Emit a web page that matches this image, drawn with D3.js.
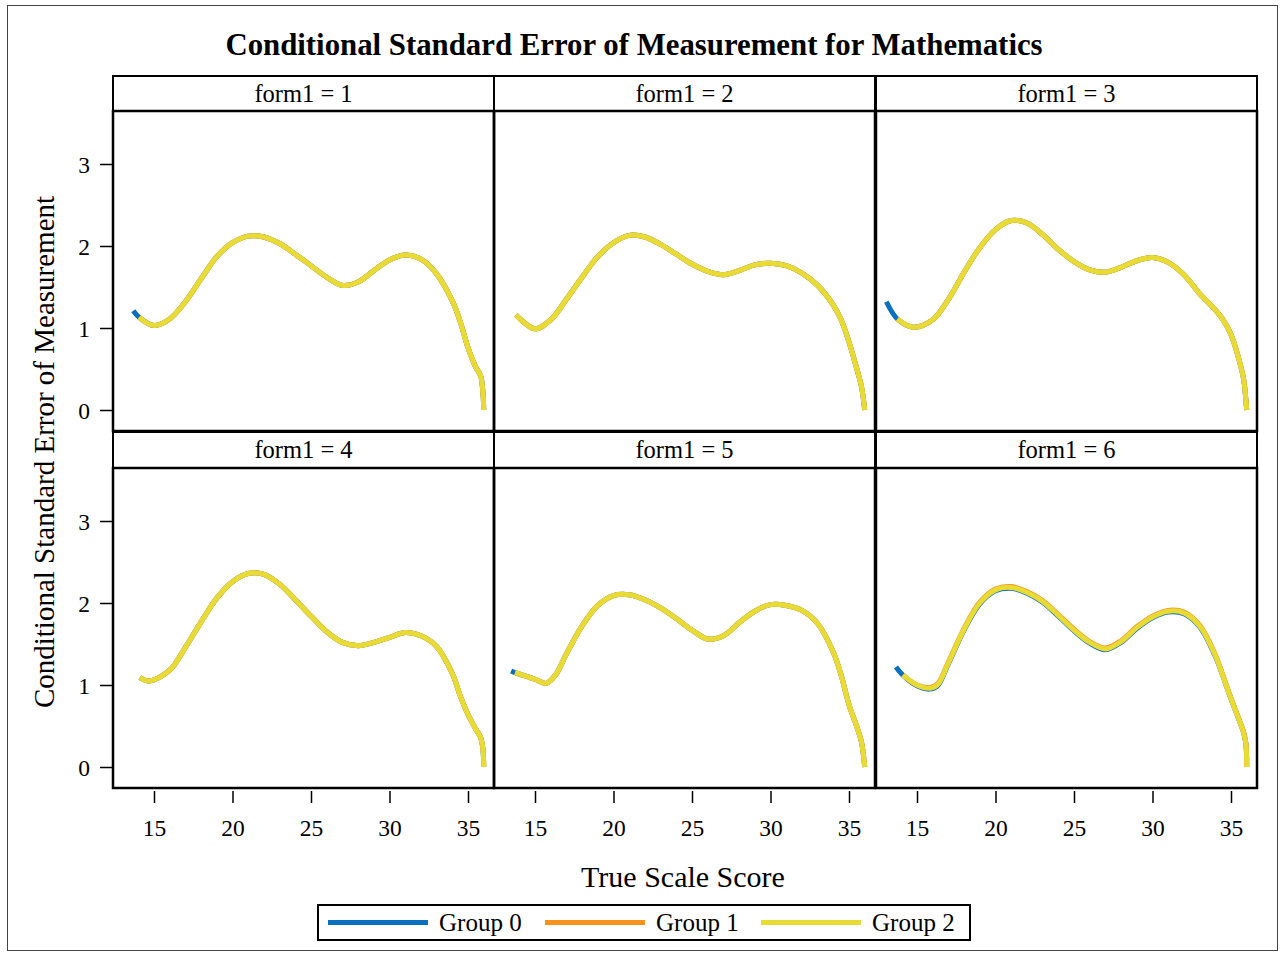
<!DOCTYPE html>
<html><head><meta charset="utf-8">
<script src="https://cdn.jsdelivr.net/npm/d3@7"></script>
<style>
body{margin:0;background:#fff}
svg{display:block}
text{font-family:"Liberation Serif","Times New Roman",serif;fill:#000}
</style>
</head><body>
<svg id="c" width="1284" height="957"></svg>
<script>
// ---------- data ----------
const formLabels = ["form1 = 1","form1 = 2","form1 = 3","form1 = 4","form1 = 5","form1 = 6"];
const groupNames = ["Group 0","Group 1","Group 2"];
const groupColors = ["#0B6FBF","#F7921E","#E8DB36"];
const yTicks = [0,1,2,3];
const xTicks = [15,20,25,30,35];

const form1X  = [13.68,14.05,15,16,17,18,19,20,21,22,23,24,25,26,27,28,29,30,31,32,33,34,34.5,35,35.5,35.8,35.95,36];
const form1G0 = [1.21,1.13,1.03,1.11,1.32,1.60,1.87,2.04,2.12,2.11,2.03,1.90,1.76,1.62,1.52,1.56,1.70,1.83,1.89,1.84,1.66,1.33,1.08,0.76,0.52,0.42,0.22,0];
const form1G1 = [null,1.13,1.03,1.11,1.32,1.60,1.87,2.04,2.12,2.11,2.03,1.90,1.76,1.62,1.52,1.56,1.70,1.83,1.89,1.84,1.66,1.33,1.08,0.76,0.52,0.42,0.22,0];
const form1G2 = [null,1.13,1.03,1.11,1.32,1.60,1.87,2.04,2.12,2.11,2.03,1.90,1.76,1.62,1.52,1.56,1.70,1.83,1.89,1.84,1.66,1.33,1.08,0.76,0.52,0.42,0.22,0];

const form2X  = [13.79,15,16,17,18,19,20,21,22,23,24,25,26,27,28,29,30,31,32,33,34,34.5,35,35.5,35.8,36];
const form2G0 = [1.16,0.99,1.10,1.35,1.62,1.87,2.04,2.13,2.11,2.02,1.90,1.78,1.69,1.65,1.70,1.77,1.79,1.76,1.67,1.52,1.28,1.10,0.83,0.50,0.28,0];
const form2G1 = [1.16,0.99,1.10,1.35,1.62,1.87,2.04,2.13,2.11,2.02,1.90,1.78,1.69,1.65,1.70,1.77,1.79,1.76,1.67,1.52,1.28,1.10,0.83,0.50,0.28,0];
const form2G2 = [1.16,0.99,1.10,1.35,1.62,1.87,2.04,2.13,2.11,2.02,1.90,1.78,1.69,1.65,1.70,1.77,1.79,1.76,1.67,1.52,1.28,1.10,0.83,0.50,0.28,0];

const form3X  = [13.05,13.75,14.75,16,17,18,19,20,21,22,23,24,25,26,27,28,29,30,31,32,33,34,34.5,35,35.5,35.8,36];
const form3G0 = [1.32,1.11,1.01,1.10,1.35,1.68,1.98,2.20,2.31,2.28,2.14,1.96,1.81,1.71,1.68,1.74,1.82,1.86,1.80,1.65,1.42,1.22,1.10,0.92,0.62,0.38,0];
const form3G1 = [null,1.11,1.01,1.10,1.35,1.68,1.98,2.20,2.31,2.28,2.14,1.96,1.81,1.71,1.68,1.74,1.82,1.86,1.80,1.65,1.42,1.22,1.10,0.92,0.62,0.38,0];
const form3G2 = [null,1.11,1.01,1.10,1.35,1.68,1.98,2.20,2.31,2.28,2.14,1.96,1.81,1.71,1.68,1.74,1.82,1.86,1.80,1.65,1.42,1.22,1.10,0.92,0.62,0.38,0];

const form4X  = [14.1,14.7,16,17,18,19,20,21,22,23,24,25,26,27,28,29,30,31,32,33,34,34.5,35,35.5,35.8,35.95,36];
const form4G0 = [1.09,1.05,1.18,1.46,1.77,2.06,2.26,2.36,2.35,2.23,2.04,1.84,1.65,1.52,1.48,1.52,1.58,1.64,1.60,1.47,1.14,0.87,0.64,0.46,0.36,0.22,0];
const form4G1 = [1.09,1.05,1.18,1.46,1.77,2.06,2.26,2.36,2.35,2.23,2.04,1.84,1.65,1.52,1.48,1.52,1.58,1.64,1.60,1.47,1.14,0.87,0.64,0.46,0.36,0.22,0];
const form4G2 = [1.09,1.05,1.18,1.46,1.77,2.06,2.26,2.36,2.35,2.23,2.04,1.84,1.65,1.52,1.48,1.52,1.58,1.64,1.60,1.47,1.14,0.87,0.64,0.46,0.36,0.22,0];

const form5X  = [13.48,13.73,15,15.7,16.3,17,18,19,20,21,22,23,24,25,26,27,28,29,30,31,32,33,34,34.5,35,35.5,35.8,36];
const form5G0 = [1.17,1.15,1.07,1.02,1.12,1.38,1.72,1.97,2.09,2.10,2.04,1.94,1.81,1.67,1.56,1.60,1.76,1.90,1.98,1.97,1.91,1.75,1.40,1.12,0.76,0.49,0.30,0];
const form5G1 = [null,1.15,1.07,1.02,1.12,1.38,1.72,1.97,2.09,2.10,2.04,1.94,1.81,1.67,1.56,1.60,1.76,1.90,1.98,1.97,1.91,1.75,1.40,1.12,0.76,0.49,0.30,0];
const form5G2 = [null,1.15,1.07,1.02,1.12,1.38,1.72,1.97,2.09,2.10,2.04,1.94,1.81,1.67,1.56,1.60,1.76,1.90,1.98,1.97,1.91,1.75,1.40,1.12,0.76,0.49,0.30,0];

const form6X  = [13.66,14.1,15,15.8,16.3,17,18,19,20,21,22,23,24,25,26,27,28,29,30,31,32,33,34,34.5,35,35.5,35.8,35.95,36];
const form6G0 = [1.22,1.12,0.99,0.95,0.99,1.26,1.67,1.99,2.15,2.18,2.12,2.01,1.84,1.66,1.51,1.43,1.52,1.69,1.82,1.89,1.87,1.71,1.35,1.10,0.83,0.58,0.42,0.28,0];
const form6G1 = [null,1.12,1.00,0.97,1.01,1.28,1.69,2.01,2.17,2.20,2.14,2.03,1.86,1.68,1.53,1.45,1.54,1.71,1.84,1.91,1.89,1.73,1.37,1.11,0.84,0.59,0.43,0.29,0];
const form6G2 = [null,1.12,1.00,0.96,1.00,1.27,1.68,2.00,2.16,2.19,2.13,2.02,1.85,1.67,1.52,1.44,1.53,1.70,1.83,1.90,1.88,1.72,1.36,1.10,0.83,0.58,0.42,0.28,0];

const formsX = [form1X,form2X,form3X,form4X,form5X,form6X];
const formsG = [
  [form1G0,form1G1,form1G2],[form2G0,form2G1,form2G2],[form3G0,form3G1,form3G2],
  [form4G0,form4G1,form4G2],[form5G0,form5G1,form5G2],[form6G0,form6G1,form6G2]];

// ---------- layout ----------
const svg = d3.select("#c");
svg.append("rect").attr("x",7.5).attr("y",5.5).attr("width",1270).attr("height",945)
  .attr("fill","#fff").attr("stroke","#444").attr("stroke-width",1);

svg.append("text").attr("x",634).attr("y",55).attr("text-anchor","middle")
  .attr("font-weight","bold").attr("font-size",30.8)
  .text("Conditional Standard Error of Measurement for Mathematics");

const colX = [113, 494, 876];
const colW = 381;
const headY = [76, 432], headH = [35, 36];
const plotY = [111, 468], plotH = 320;

const x = d3.scaleLinear().domain([15 - 41/15.7, 15 + (colW-41)/15.7]).range([0, colW]);
const y = d3.scaleLinear().domain([-(plotH-299)/82, 299/82]).range([plotH, 0]);

const line = d3.line().defined(d => d[1] != null)
  .x(d => x(d[0])).y(d => y(d[1])).curve(d3.curveCatmullRom.alpha(0.5));

const defs = svg.append("defs");

formLabels.forEach((lab, i) => {
  const c = i % 3, r = Math.floor(i / 3);
  const gx = colX[c];
  // header
  svg.append("rect").attr("x",gx).attr("y",headY[r]).attr("width",colW).attr("height",headH[r])
    .attr("fill","#fff").attr("stroke","#000").attr("stroke-width",2);
  svg.append("text").attr("x",gx+colW/2).attr("y",headY[r]+headH[r]/2+8)
    .attr("text-anchor","middle").attr("font-size",24.5).text(lab);
  // plot
  const g = svg.append("g").attr("transform",`translate(${gx},${plotY[r]})`);
  defs.append("clipPath").attr("id","clip"+i).append("rect")
    .attr("width",colW).attr("height",plotH);
  const pg = g.append("g").attr("clip-path",`url(#clip${i})`);
  formsG[i].forEach((vals, k) => {
    const pts = formsX[i].map((xv, j) => [xv, vals[j]]);
    pg.append("path").attr("d", line(pts)).attr("fill","none")
      .attr("stroke", groupColors[k]).attr("stroke-width",5).attr("stroke-linecap","butt")
      .attr("stroke-linejoin","round");
  });
  g.append("rect").attr("width",colW).attr("height",plotH)
    .attr("fill","none").attr("stroke","#000").attr("stroke-width",2.5);

  if (c === 0) {
    const ya = g.append("g").attr("transform","translate(-1,0)")
      .call(d3.axisLeft(y).tickValues(yTicks).tickSize(12).tickPadding(10).tickFormat(d3.format("d")));
    ya.select(".domain").remove();
    ya.selectAll("line").attr("stroke","#000").attr("stroke-width",1.5);
    ya.selectAll("text").attr("font-size",23.5).attr("font-family","Liberation Serif").attr("fill","#000").attr("dy","0.34em");
  }
  if (r === 1) {
    const xa = g.append("g").attr("transform",`translate(0,${plotH+3})`)
      .call(d3.axisBottom(x).tickValues(xTicks).tickSize(12).tickPadding(16).tickFormat(d3.format("d")));
    xa.select(".domain").remove();
    xa.selectAll("line").attr("stroke","#000").attr("stroke-width",1.5);
    xa.selectAll("text").attr("font-size",23.5).attr("font-family","Liberation Serif").attr("fill","#000");
  }
});

// axis titles
svg.append("text").attr("x",683).attr("y",887).attr("text-anchor","middle")
  .attr("font-size",30).text("True Scale Score");
svg.append("text").attr("transform","translate(54,452) rotate(-90)").attr("text-anchor","middle")
  .attr("font-size",29).text("Conditional Standard Error of Measurement");

// legend
const lg = svg.append("g");
lg.append("rect").attr("x",318).attr("y",905).attr("width",652).attr("height",35)
  .attr("fill","#fff").attr("stroke","#000").attr("stroke-width",2);
const legX = [328, 545, 761];
groupNames.forEach((nm, k) => {
  lg.append("line").attr("x1",legX[k]).attr("x2",legX[k]+100).attr("y1",922.5).attr("y2",922.5)
    .attr("stroke",groupColors[k]).attr("stroke-width",5);
  lg.append("text").attr("x",legX[k]+111).attr("y",931).attr("font-size",25).text(nm);
});
</script>
</body></html>
